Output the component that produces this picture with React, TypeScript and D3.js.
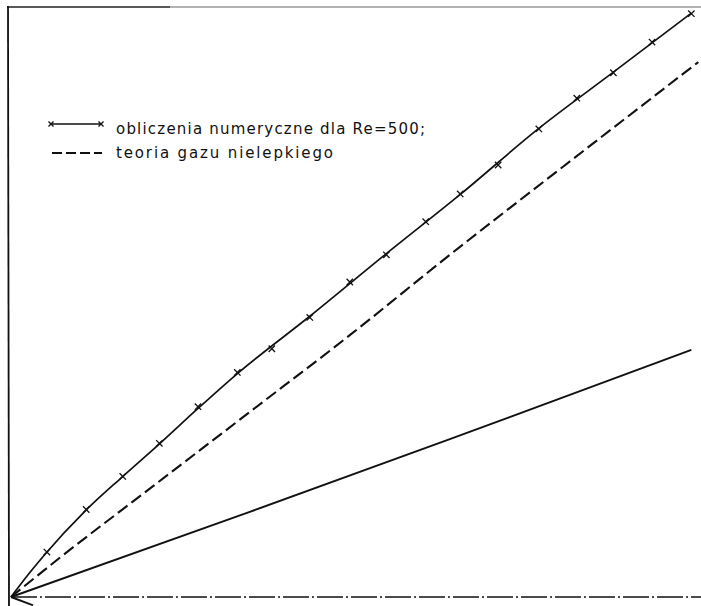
import React from "react";
import * as d3 from "d3";

const W = 701;
const H = 606;

// numerical computation (Re = 500): marker points
const numericX = [5.2, 10.9, 16.2, 21.5, 27.1, 32.8, 37.8, 43.3, 49.1, 54.4, 60.1, 65.1, 70.6, 76.5, 82.0, 87.3, 92.9, 98.6];
const numericY = [7.6, 14.8, 20.4, 26.0, 32.2, 38.0, 42.0, 47.3, 53.3, 57.9, 63.5, 68.2, 73.1, 79.2, 84.4, 88.7, 93.9, 98.7];

// numerical computation: drawn curve
const curveX = [0, 2.5, 4.9, 10.7, 16.1, 21.6, 27.1, 32.6, 43.3, 54.4, 65.2, 76.4, 87.3, 98.6];
const curveY = [0, 3.8, 7.2, 14.5, 20.3, 26.0, 31.9, 37.6, 47.5, 58.1, 68.2, 79.2, 88.8, 98.8];

// inviscid gas theory
const inviscidX = [0, 6.7, 20.3, 34.6, 49.1, 63.6, 80.0, 99.6];
const inviscidY = [0, 6.3, 18.5, 31.3, 44.3, 57.9, 72.8, 90.5];

// lower solid line
const lowerX = [0, 34.6, 63.6, 98.6];
const lowerY = [0, 14.4, 26.7, 41.8];

// short stub below origin
const stubX = [0, 3.2];
const stubY = [0, -1.4];

const legendLabels = ["obliczenia numeryczne dla Re=500;", "teoria gazu nielepkiego"];

const x = d3.scaleLinear().domain([0, 100]).range([11, 701]);
const y = d3.scaleLinear().domain([0, 100]).range([597, 6]);

const zip = (xs: number[], ys: number[]) => xs.map((v, i) => [v, ys[i]] as [number, number]);

export default function App() {
  const lineCurve = d3
    .line<[number, number]>()
    .x((d) => x(d[0]))
    .y((d) => y(d[1]))
    .curve(d3.curveMonotoneX);
  const lineStraight = d3
    .line<[number, number]>()
    .x((d) => x(d[0]))
    .y((d) => y(d[1]));

  const markers = zip(numericX, numericY);
  const numeric = zip(curveX, curveY);
  const inviscid = zip(inviscidX, inviscidY);
  const lower = zip(lowerX, lowerY);
  const stub = zip(stubX, stubY);

  const cross = (cx: number, cy: number, s: number, key: string | number) => (
    <path
      key={key}
      d={`M${cx - s},${cy - s}L${cx + s},${cy + s}M${cx - s},${cy + s}L${cx + s},${cy - s}`}
      stroke="#111"
      strokeWidth={1.3}
      fill="none"
    />
  );

  return (
    <svg
      width={W}
      height={H}
      style={{ position: "absolute", left: 0, top: 0, background: "#fff" }}
    >
      {/* frame */}
      <line x1={7} y1={7} x2={170} y2={7} stroke="#222" strokeWidth={1.6} />
      <line x1={170} y1={7} x2={701} y2={7} stroke="#666" strokeWidth={1.2} />
      <line x1={8} y1={6} x2={9} y2={606} stroke="#111" strokeWidth={1.8} />
      {/* bottom axis dash-dot */}
      <line
        x1={x(0)}
        y1={y(0)}
        x2={701}
        y2={y(0)}
        stroke="#111"
        strokeWidth={1.6}
        strokeDasharray="26,3,2,3"
      />

      {/* lower solid line */}
      <path d={lineStraight(lower) || ""} fill="none" stroke="#111" strokeWidth={1.9} />
      <path d={lineStraight(stub) || ""} fill="none" stroke="#111" strokeWidth={1.9} />

      {/* inviscid theory dashed */}
      <path
        d={lineCurve(inviscid) || ""}
        fill="none"
        stroke="#111"
        strokeWidth={2.1}
        strokeDasharray="12,5"
      />

      {/* numerical solution */}
      <path d={lineCurve(numeric) || ""} fill="none" stroke="#111" strokeWidth={1.7} />
      {markers.map((d, i) => cross(x(d[0]), y(d[1]), 3.2, i))}

      {/* legend */}
      <g>
        <line x1={50} y1={124} x2={102} y2={124} stroke="#111" strokeWidth={1.5} />
        {cross(51, 124, 2.5, "l1")}
        {cross(101, 124, 2.5, "l2")}
        <text
          x={116}
          y={134}
          fontFamily="DejaVu Sans"
          fontSize={15}
          fill="#111"
          textLength={309}
          lengthAdjust="spacing"
        >
          {legendLabels[0]}
        </text>
        <line
          x1={52}
          y1={153}
          x2={102}
          y2={153}
          stroke="#111"
          strokeWidth={1.8}
          strokeDasharray="10,4"
        />
        <text
          x={116}
          y={158}
          fontFamily="DejaVu Sans"
          fontSize={15}
          fill="#111"
          textLength={217}
          lengthAdjust="spacing"
        >
          {legendLabels[1]}
        </text>
      </g>
    </svg>
  );
}
